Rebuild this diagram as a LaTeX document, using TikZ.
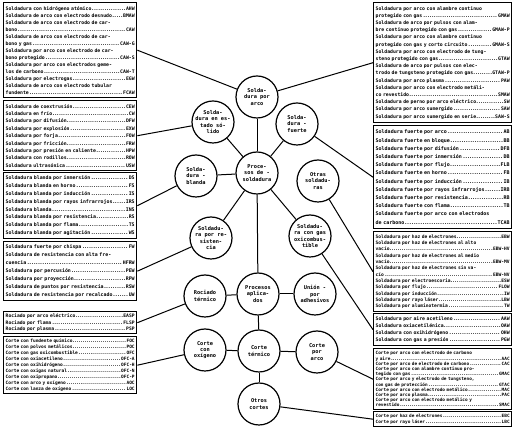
\documentclass[tikz,border=0pt]{standalone}
\usepackage{fontspec}
\newfontfamily\tw{DejaVu Sans Mono}
\newcommand\lf[2]{\tw\bfseries\fontsize{#1}{#2}\selectfont}
\newcommand\cf{\tw\bfseries\fontsize{5.3}{6.3}\selectfont}
\begin{document}
\begin{tikzpicture}[x=1pt,y=-1pt,
  lst/.style={draw, line width=1.4pt, anchor=north west, inner xsep=2pt, inner ysep=1.5pt, align=left},
  lw/.style={lst, text width=129pt},
  rw/.style={lst, text width=134pt},
  cir/.style={draw, circle, line width=1.2pt, minimum size=42pt, inner sep=0pt, align=center, font=\cf},
  con/.style={line width=1pt}]
\useasboundingbox (0,0) rectangle (515,427);
% ---------- left lists
\node[lw, minimum height=95pt, font={\lf{4.8}{7.0}}] (L1) at (3,2) {%
Soldadura con hidrógeno atómico\dotfill AHW\\
Soldadura de arco con electrodo desnudo\dotfill BMAW\\
Soldadura de arco con electrodo de car-\\
bono\dotfill CAW\\
Soldadura de arco con electrodo de car-\\
bono y gas\dotfill CAW-G\\
Soldadura por arco con electrodo de car-\\
bono protegido\dotfill CAW-S\\
Soldadura por arco con electrodos geme-\\
los de carbono\dotfill CAW-T\\
Soldadura por electrogas\dotfill EGW\\
Soldadura de arco con electrodo tubular\\
fundente\dotfill FCAW};
\node[lw, minimum height=70pt, font={\lf{4.8}{7.4}}] (L2) at (3,100) {%
Soldadura de coextrusión\dotfill CEW\\
Soldadura en frío\dotfill CW\\
Soldadura por difusión\dotfill DFW\\
Soldadura por explosión\dotfill EXW\\
Soldadura por forja\dotfill FOW\\
Soldadura por fricción\dotfill FRW\\
Soldadura por presión en caliente\dotfill HPW\\
Soldadura con rodillos\dotfill ROW\\
Soldadura ultrasónica\dotfill USW};
\node[lw, minimum height=66pt, font={\lf{4.9}{7.8}}] (L3) at (3,172) {%
Soldadura blanda por inmersión\dotfill DS\\
Soldadura blanda en horno\dotfill FS\\
Soldadura blanda por inducción\dotfill IS\\
Soldadura blanda por rayos infrarrojos\dotfill IRS\\
Soldadura blanda\dotfill INS\\
Soldadura blanda por resistencia\dotfill RS\\
Soldadura blanda por flama\dotfill TS\\
Soldadura blanda por agitación\dotfill WS};
\node[lw, minimum height=59pt, font={\lf{4.9}{7.9}}] (L4) at (3,241) {%
Soldadura fuerte por chispa\dotfill FW\\
Soldadura de resistencia con alta fre-\\
cuencia\dotfill HFRW\\
Soldadura por percusión\dotfill PEW\\
Soldadura por proyección\dotfill RPW\\
Soldadura de puntos por resistencia\dotfill RSW\\
Soldadura de resistencia por recalcado\dotfill UW};
\node[lw, minimum height=22pt, font={\lf{4.7}{6.2}}] (L5) at (3,311) {%
Rociado por arco eléctrico\dotfill EASP\\
Rociado por flama\dotfill FLSP\\
Rociado por plasma\dotfill PSP};
\node[lw, minimum height=57pt, font={\lf{4.5}{5.9}}] (L6) at (3,336) {%
Corte con fundente químico\dotfill FOC\\
Corte con polvos metálicos\dotfill POC\\
Corte con gas oxicombustible\dotfill OFC\\
Corte con oxiacetileno\dotfill OFC-A\\
Corte con oxihidrógeno\dotfill OFC-H\\
Corte con oxigas natural\dotfill OFC-N\\
Corte con oxipropano\dotfill OFC-P\\
Corte con arco y oxígeno\dotfill AOC\\
Corte con lanza de oxígeno\dotfill LOC};
% ---------- right lists
\node[rw, minimum height=120pt, font={\lf{4.8}{7.2}}] (R1) at (373,2) {%
Soldadura por arco con alambre continuo\\
protegido con gas\dotfill GMAW\\
Soldadura de arco por pulsos con alam-\\
bre continuo protegido con gas\dotfill GMAW-P\\
Soldadura por arco con alambre continuo\\
protegido con gas y corto circuito\dotfill GMAW-S\\
Soldadura por arco con electrodo de tung-\\
steno protegido con gas\dotfill GTAW\\
Soldadura de arco por pulsos con elec-\\
trodo de tungsteno protegido con gas\dotfill GTAW-P\\
Soldadura por arco plasma\dotfill PAW\\
Soldadura por arco con electrodo metáli-\\
co revestido\dotfill SMAW\\
Soldadura de perno por arco eléctrico\dotfill SW\\
Soldadura por arco sumergido\dotfill SAW\\
Soldadura por arco sumergido en serie\dotfill SAW-S};
\node[rw, minimum height=103pt, font={\lf{5.0}{8.2}}] (R2) at (373,125) {%
Soldadura fuerte por arco\dotfill AB\\
Soldadura fuerte en bloque\dotfill BB\\
Soldadura fuerte por difusión\dotfill DFB\\
Soldadura fuerte por inmersión\dotfill DB\\
Soldadura fuerte por flujo\dotfill FLB\\
Soldadura fuerte en horno\dotfill FB\\
Soldadura fuerte por inducción\dotfill IB\\
Soldadura fuerte por rayos infrarrojos\dotfill IRB\\
Soldadura fuerte por resistencia\dotfill RB\\
Soldadura fuerte con flama\dotfill TB\\
Soldadura fuerte por arco con electrodos\\
de carbono\dotfill TCAB};
\node[rw, minimum height=80pt, font={\lf{4.6}{6.3}}] (R3) at (373,231) {%
Soldadura por haz de electrones\dotfill EBW\\
Soldadura por haz de electrones al alto\\
vacío\dotfill EBW-HV\\
Soldadura por haz de electrones al medio\\
vacío\dotfill EBW-MV\\
Soldadura por haz de electrones sin va-\\
cío\dotfill EBW-NV\\
Soldadura por electroescoria\dotfill ESW\\
Soldadura por flujo\dotfill FLOW\\
Soldadura por inducción\dotfill IW\\
Soldadura por rayo láser\dotfill LBW\\
Soldadura por aluminotermia\dotfill TW};
\node[rw, minimum height=32pt, font={\lf{4.8}{7.0}}] (R4) at (373,313) {%
Soldadura por aire acetileno\dotfill AAW\\
Soldadura oxiacetilénica\dotfill OAW\\
Soldadura con oxihidrógeno\dotfill OHW\\
Soldadura con gas a presión\dotfill PGW};
\node[rw, minimum height=61pt, font={\lf{4.4}{5.2}}] (R5) at (373,348) {%
Corte por arco con electrodo de carbono\\
y aire\dotfill AAC\\
Corte por arco de electrodo de carbono\dotfill CAC\\
Corte por arco con alambre continuo pro-\\
tegido con gas\dotfill GMAC\\
Corte por arco y electrodo de tungsteno,\\
con gas de protección\dotfill GTAC\\
Corte por arco con electrodo metálico\dotfill MAC\\
Corte por arco plasma\dotfill PAC\\
Corte por arco con electrodo metálico y\\
revestido\dotfill SMAC};
\node[rw, minimum height=15pt, inner ysep=1pt, font={\lf{4.4}{5.4}}] (R6) at (373,411) {%
Corte por haz de electrones\dotfill EBC\\
Corte por rayo láser\dotfill LBC};
% ---------- circles
\node[cir] (A) at (257,97) {Solda-\\dura por\\arco};
\node[cir] (B) at (213,122) {Solda-\\dura en es-\\tado só-\\lido};
\node[cir] (C) at (297,124) {Solda-\\dura -\\fuerte};
\node[cir] (D) at (196,176) {Solda-\\dura -\\blanda};
\node[cir] (E) at (257,173) {Proce-\\sos de -\\soldadura};
\node[cir] (F) at (318,181) {Otras\\soldadu-\\ras};
\node[cir] (G) at (211,238) {Soldadu-\\ra por re-\\sisten-\\cia};
\node[cir] (H) at (310,236) {Soldadu-\\ra con gas\\oxicombus-\\tible};
\node[cir] (I) at (205,296) {Rociado\\térmico};
\node[cir] (J) at (258,294) {Procesos\\aplica-\\dos};
\node[cir] (K) at (315,294) {Unión -\\por\\adhesivos};
\node[cir] (L) at (205,350) {Corte\\con\\oxígeno};
\node[cir] (M) at (259,351) {Corte\\térmico};
\node[cir] (N) at (317,352) {Corte\\por\\arco};
\node[cir] (O) at (259,404) {Otros\\cortes};
% ---------- connectors between circles
\draw[con] (E) -- (A);
\draw[con] (E) -- (B);
\draw[con] (E) -- (C);
\draw[con] (E) -- (D);
\draw[con] (E) -- (G);
\draw[con] (E) -- (H);
\draw[con] (E) -- (J);
\draw[con] (J) -- (I);
\draw[con] (J) -- (K);
\draw[con] (J) -- (M);
\draw[con] (M) -- (L);
\draw[con] (M) -- (N);
\draw[con] (M) -- (O);
% ---------- connectors to lists
\draw[con] (A) -- (L1.east);
\draw[con] (A) -- (R1.west);
\draw[con] (B) -- (L2.east);
\draw[con] (C) -- (R2.west);
\draw[con] (D) -- (L3.east);
\draw[con] (F) -- (R3.west);
\draw[con] (G) -- (L4.east);
\draw[con] (H) -- (R4.west);
\draw[con] (I) -- (L5.east);
\draw[con] (L) -- (L6.east);
\draw[con] (N) -- (R5.west);
\draw[con] (O) -- (R6.west);
\end{tikzpicture}
\end{document}
